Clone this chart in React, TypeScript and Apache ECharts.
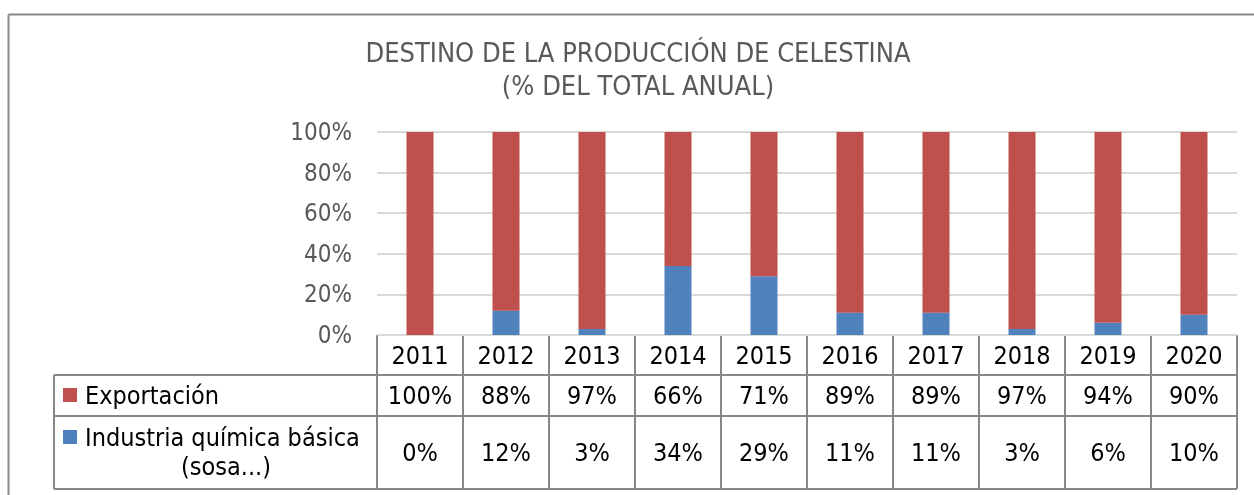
import React, { useEffect, useRef } from "react";
import * as echarts from "echarts";

const years = ["2011", "2012", "2013", "2014", "2015", "2016", "2017", "2018", "2019", "2020"];
const exportacion = [100, 88, 97, 66, 71, 89, 89, 97, 94, 90];
const industria = [0, 12, 3, 34, 29, 11, 11, 3, 6, 10];
const seriesNames = ["Exportación", "Industria química básica (sosa...)"];
const yTicks = [0, 20, 40, 60, 80, 100];

const RED = "#C0504D";
const BLUE = "#4F81BD";
const FONT = "'DejaVu Sans Condensed', 'DejaVu Sans', sans-serif";

export default function App() {
  const ref = useRef<HTMLDivElement>(null);
  useEffect(() => {
    if (!ref.current) return;
    const chart = echarts.init(ref.current, undefined, { renderer: "svg" });
    const W = 1254;
    const H = 495;
    const L = 377;
    const R = 1237;
    const top = 132;
    const axisY = 335;
    const rows = [335, 375, 416, 489];
    const leftCol = 54;
    const catW = (R - L) / years.length;
    const lineColor = "#888888";
    const lw = 2;
    const g: any[] = [];
    // outer border
    g.push({ type: "line", shape: { x1: 8.5, y1: 14.5, x2: W, y2: 14.5 }, style: { stroke: "#898989", lineWidth: 2 } });
    g.push({ type: "line", shape: { x1: 8.5, y1: 14.5, x2: 8.5, y2: H }, style: { stroke: "#898989", lineWidth: 2 } });
    // title
    g.push({
      type: "text", x: 638, y: 52,
      style: { text: "DESTINO DE LA PRODUCCIÓN DE CELESTINA", fill: "#595959", font: `27px ${FONT}`, align: "center", verticalAlign: "middle" },
    });
    g.push({
      type: "text", x: 638, y: 85,
      style: { text: "(% DEL TOTAL ANUAL)", fill: "#595959", font: `27px ${FONT}`, align: "center", verticalAlign: "middle" },
    });
    // table horizontal lines
    g.push({ type: "line", shape: { x1: leftCol, y1: rows[1], x2: R, y2: rows[1] }, style: { stroke: lineColor, lineWidth: lw } });
    g.push({ type: "line", shape: { x1: leftCol, y1: rows[2], x2: R, y2: rows[2] }, style: { stroke: lineColor, lineWidth: lw } });
    g.push({ type: "line", shape: { x1: leftCol, y1: rows[3], x2: R, y2: rows[3] }, style: { stroke: lineColor, lineWidth: lw } });
    g.push({ type: "line", shape: { x1: L, y1: rows[0], x2: R, y2: rows[0] }, style: { stroke: lineColor, lineWidth: lw } });
    // vertical lines
    g.push({ type: "line", shape: { x1: leftCol, y1: rows[1], x2: leftCol, y2: rows[3] }, style: { stroke: lineColor, lineWidth: lw } });
    for (let i = 0; i <= years.length; i++) {
      const x = L + catW * i;
      g.push({ type: "line", shape: { x1: x, y1: rows[0], x2: x, y2: rows[3] }, style: { stroke: lineColor, lineWidth: lw } });
    }
    // legend keys
    g.push({ type: "rect", shape: { x: 63, y: 388, width: 14, height: 14 }, style: { fill: RED } });
    g.push({
      type: "text", x: 85, y: (rows[1] + rows[2]) / 2,
      style: { text: seriesNames[0], fill: "#000", font: `25px ${FONT}`, align: "left", verticalAlign: "middle" },
    });
    g.push({ type: "rect", shape: { x: 63, y: 430, width: 14, height: 14 }, style: { fill: BLUE } });
    g.push({
      type: "text", x: 85, y: 437,
      style: { text: "Industria química básica", fill: "#000", font: `25px ${FONT}`, align: "left", verticalAlign: "middle" },
    });
    g.push({
      type: "text", x: 226, y: 466,
      style: { text: "(sosa...)", fill: "#000", font: `25px ${FONT}`, align: "center", verticalAlign: "middle" },
    });
    for (let i = 0; i < years.length; i++) {
      const cx = L + catW * (i + 0.5);
      g.push({
        type: "text", x: cx, y: (rows[1] + rows[2]) / 2,
        style: { text: `${exportacion[i]}%`, fill: "#000", font: `25px ${FONT}`, align: "center", verticalAlign: "middle" },
      });
      g.push({
        type: "text", x: cx, y: (rows[2] + rows[3]) / 2,
        style: { text: `${industria[i]}%`, fill: "#000", font: `25px ${FONT}`, align: "center", verticalAlign: "middle" },
      });
    }

    chart.setOption({
      animation: false,
      grid: { left: L, right: W - R, top, bottom: H - axisY, containLabel: false },
      xAxis: {
        type: "category",
        data: years,
        axisLine: { show: false },
        axisTick: { show: false },
        axisLabel: { color: "#000", fontSize: 25, fontFamily: FONT, margin: 20, verticalAlign: "middle" },
      },
      yAxis: {
        type: "value",
        min: yTicks[0],
        max: yTicks[yTicks.length - 1],
        interval: 20,
        axisLine: { show: false },
        axisTick: { show: false },
        axisLabel: { color: "#595959", fontSize: 24, fontFamily: FONT, margin: 25, formatter: "{value}%" },
        splitLine: { lineStyle: { color: "#d9d9d9", width: 2 } },
      },
      series: [
        { name: seriesNames[1], type: "bar", stack: "t", data: industria, barWidth: 27, itemStyle: { color: BLUE } },
        { name: seriesNames[0], type: "bar", stack: "t", data: exportacion, barWidth: 27, itemStyle: { color: RED } },
      ],
      graphic: g,
    });
    return () => chart.dispose();
  }, []);
  return <div ref={ref} style={{ position: "fixed", left: 0, top: 0, width: 1254, height: 495 }} />;
}
